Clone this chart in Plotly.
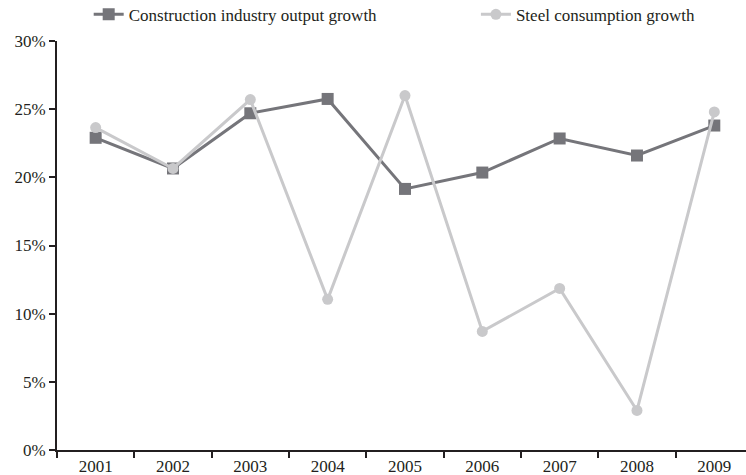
import plotly.graph_objects as go

years = ["2001", "2002", "2003", "2004", "2005", "2006", "2007", "2008", "2009"]
construction_growth = [22.9, 20.65, 24.7, 25.75, 19.15, 20.35, 22.85, 21.6, 23.8]
steel_growth = [23.65, 20.65, 25.7, 11.05, 26.0, 8.7, 11.85, 2.9, 24.8]
y_ticks = [0, 5, 10, 15, 20, 25, 30]
y_tick_labels = [f"{v}%" for v in y_ticks]

DARK = "#75757a"
LIGHT = "#c9c9cb"
INK = "#231f20"
FONT = "Liberation Serif"

fig = go.Figure()
fig.add_trace(go.Scatter(
    x=years, y=construction_growth, name="Construction industry output growth",
    mode="lines+markers",
    line=dict(color=DARK, width=3),
    marker=dict(symbol="square", size=12, color=DARK),
    legend="legend",
))
fig.add_trace(go.Scatter(
    x=years, y=steel_growth, name="Steel consumption growth",
    mode="lines+markers",
    line=dict(color=LIGHT, width=3),
    marker=dict(symbol="circle", size=11, color=LIGHT),
    legend="legend2",
))

legend_common = dict(
    orientation="h", yanchor="middle", xanchor="left", y=1.064,
    font=dict(family=FONT, size=17, color=INK),
    bgcolor="rgba(0,0,0,0)",
)

fig.update_layout(
    width=746, height=475,
    margin=dict(l=57, r=0, t=41, b=25, autoexpand=False),
    paper_bgcolor="white", plot_bgcolor="white",
    font=dict(family=FONT, size=17, color=INK),
    showlegend=True,
    legend=dict(x=0.046, **legend_common),
    legend2=dict(x=0.608, **legend_common),
    xaxis=dict(
        type="category", range=[-0.5, 8.41], automargin=False,
        showline=True, linecolor=INK, linewidth=2,
        ticks="outside", tickson="boundaries", ticklen=6, tickwidth=2,
        tickcolor=INK, showgrid=False, zeroline=False,
        tickfont=dict(family=FONT, size=17),
    ),
    yaxis=dict(
        range=[0, 30], tickvals=y_ticks, ticktext=y_tick_labels, automargin=False,
        showline=True, linecolor=INK, linewidth=2,
        ticks="outside", ticklen=6, tickwidth=2, tickcolor=INK,
        showgrid=False, zeroline=False,
        tickfont=dict(family=FONT, size=17),
    ),
)

fig.write_html("out.html")
